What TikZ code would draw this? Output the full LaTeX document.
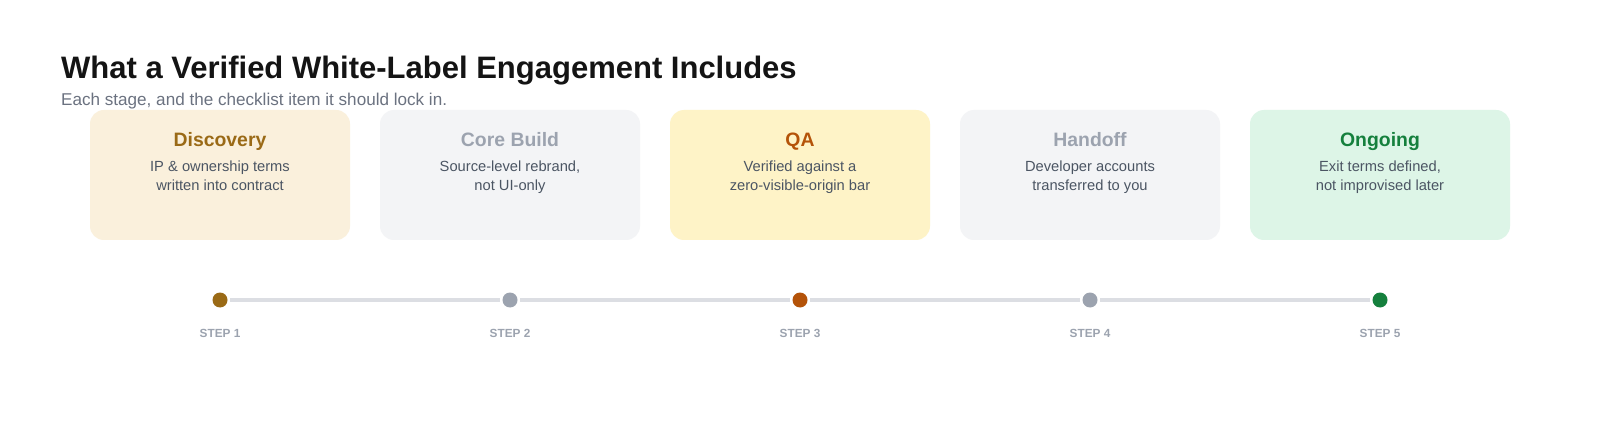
\documentclass[tikz,border=0pt]{standalone}
\usepackage{fontspec}
\setmainfont{Liberation Sans}
\definecolor{ink}{HTML}{141414}
\definecolor{subgray}{HTML}{6B7280}
\definecolor{bodygray}{HTML}{4B5563}
\definecolor{stepgray}{HTML}{9CA3AF}
\definecolor{linegray}{HTML}{DCDEE3}
\definecolor{fillA}{HTML}{FAF0DC}
\definecolor{textA}{HTML}{9A6A16}
\definecolor{fillG}{HTML}{F3F4F6}
\definecolor{textG}{HTML}{9CA3AF}
\definecolor{fillQ}{HTML}{FEF3C7}
\definecolor{textQ}{HTML}{B45309}
\definecolor{fillO}{HTML}{DDF5E7}
\definecolor{textO}{HTML}{15803D}
\begin{document}
\begin{tikzpicture}[x=1pt,y=-1pt,
  card/.style={rounded corners=14pt, minimum width=260pt, minimum height=130pt, inner sep=0pt, draw=none},
  cardtitle/.style={anchor=base, font=\fontsize{19.4}{23}\selectfont\bfseries, inner sep=0pt},
  cardbody/.style={anchor=base, font=\fontsize{14.7}{17}\selectfont, text=bodygray, inner sep=0pt},
  dot/.style={circle, minimum size=15pt, inner sep=0pt, draw=none},
  tl/.style={draw=linegray, line width=4.5pt, shorten >=2.5pt, shorten <=2.5pt},
  steplabel/.style={anchor=base, font=\fontsize{11.8}{14}\selectfont\bfseries, text=stepgray, inner sep=0pt}]
\useasboundingbox[fill=white] (0,0) rectangle (1600,430);

\node[anchor=base west, inner sep=0pt, font=\fontsize{31}{36}\selectfont\bfseries, text=ink] (title) at (61,79) {What a Verified White-Label Engagement Includes};
\node[anchor=base west, inner sep=0pt, font=\fontsize{17.1}{19}\selectfont, text=subgray] (sub) at (61,106) {Each stage, and the checklist item it should lock in.};

% cards
\node[card, fill=fillA] (c1) at (220,175) {};
\node[card, fill=fillG] (c2) at (510,175) {};
\node[card, fill=fillQ] (c3) at (800,175) {};
\node[card, fill=fillG] (c4) at (1090,175) {};
\node[card, fill=fillO] (c5) at (1380,175) {};

\node[cardtitle, text=textA] (t1) at (220,147) {Discovery};
\node[cardbody] (b1a) at (220,172) {IP \& ownership terms};
\node[cardbody] (b1b) at (220,191) {written into contract};

\node[cardtitle, text=textG] (t2) at (510,147) {Core Build};
\node[cardbody] (b2a) at (510,172) {Source-level rebrand,};
\node[cardbody] (b2b) at (510,191) {not UI-only};

\node[cardtitle, text=textQ] (t3) at (800,147) {QA};
\node[cardbody] (b3a) at (800,172) {Verified against a};
\node[cardbody] (b3b) at (800,191) {zero-visible-origin bar};

\node[cardtitle, text=textG] (t4) at (1090,147) {Handoff};
\node[cardbody] (b4a) at (1090,172) {Developer accounts};
\node[cardbody] (b4b) at (1090,191) {transferred to you};

\node[cardtitle, text=textO] (t5) at (1380,147) {Ongoing};
\node[cardbody] (b5a) at (1380,172) {Exit terms defined,};
\node[cardbody] (b5b) at (1380,191) {not improvised later};

% timeline
\node[dot, fill=textA] (d1) at (220,300) {};
\node[dot, fill=textG] (d2) at (510,300) {};
\node[dot, fill=textQ] (d3) at (800,300) {};
\node[dot, fill=textG] (d4) at (1090,300) {};
\node[dot, fill=textO] (d5) at (1380,300) {};
\draw[tl] (d1) -- (d2);
\draw[tl] (d2) -- (d3);
\draw[tl] (d3) -- (d4);
\draw[tl] (d4) -- (d5);

\node[steplabel] (s1) at (220,337.5) {STEP 1};
\node[steplabel] (s2) at (510,337.5) {STEP 2};
\node[steplabel] (s3) at (800,337.5) {STEP 3};
\node[steplabel] (s4) at (1090,337.5) {STEP 4};
\node[steplabel] (s5) at (1380,337.5) {STEP 5};
\end{tikzpicture}
\end{document}
